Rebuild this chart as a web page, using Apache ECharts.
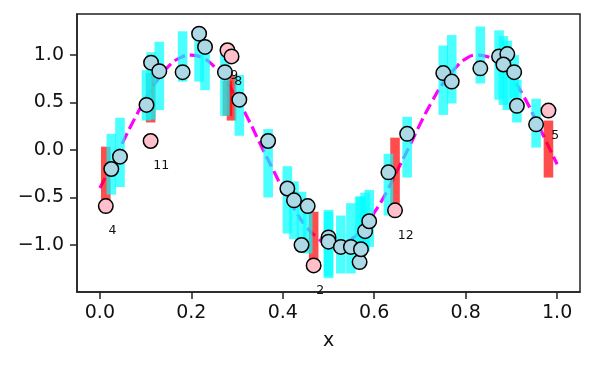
<!DOCTYPE html>
<html><head><meta charset="utf-8">
<script src="https://cdn.jsdelivr.net/npm/echarts@6/dist/echarts.min.js"></script>
<style>html,body{margin:0;padding:0;background:#fff}#c{width:593px;height:366px}</style>
</head><body><div id="c"></div>
<script>
// Dashed reference curve
const curveX = [0,0.025,0.05,0.075,0.1,0.125,0.15,0.175,0.2,0.225,0.25,0.275,0.3,0.325,0.35,0.375,0.4,0.425,0.45,0.475,0.5,0.525,0.55,0.575,0.6,0.625,0.65,0.675,0.7,0.725,0.75,0.775,0.8,0.825,0.85,0.875,0.9,0.925,0.95,0.975,1.0];
const curveY = [-0.40,-0.17,0.08,0.32,0.54,0.73,0.88,0.97,1.0,0.97,0.88,0.73,0.54,0.32,0.07,-0.17,-0.41,-0.62,-0.80,-0.92,-0.99,-0.99,-0.94,-0.83,-0.66,-0.46,-0.22,0.02,0.27,0.50,0.70,0.85,0.96,1.0,0.98,0.90,0.77,0.58,0.35,0.10,-0.15];

// Inlier points and their intervals
const ptX  = [0.025,0.044,0.102,0.112,0.130,0.181,0.217,0.230,0.2735,0.305,0.368,0.410,0.4245,0.4545,0.441,0.500,0.500,0.527,0.549,0.568,0.571,0.580,0.589,0.631,0.672,0.751,0.7695,0.832,0.873,0.891,0.8825,0.906,0.912,0.954];
const ptY  = [-0.20,-0.07,0.475,0.92,0.83,0.82,1.225,1.085,0.82,0.53,0.095,-0.405,-0.53,-0.59,-1.0,-0.92,-0.965,-1.02,-1.02,-1.18,-1.045,-0.855,-0.75,-0.235,0.17,0.81,0.72,0.86,0.985,1.01,0.90,0.82,0.465,0.27];
const ptLo = [-0.47,-0.39,0.31,0.32,0.42,0.72,0.72,0.63,0.36,0.15,-0.50,-0.88,-0.94,-1.09,-1.02,-1.35,-1.33,-1.30,-1.30,-1.22,-1.21,-1.07,-1.02,-0.69,-0.29,0.37,0.49,0.70,0.53,0.42,0.475,0.55,0.29,0.025];
const ptHi = [0.17,0.34,0.84,1.03,1.14,1.25,1.25,1.14,1.09,0.79,0.22,-0.17,-0.33,-0.55,-0.44,-0.63,-0.65,-0.69,-0.56,-0.49,-0.49,-0.45,-0.42,-0.04,0.35,1.10,1.21,1.30,1.26,1.15,1.20,1.0,0.74,0.54];

// Outlier points, their intervals and labels
const outX  = [0.013,0.111,0.279,0.288,0.4675,0.6455,0.981];
const outY  = [-0.59,0.095,1.05,0.985,-1.215,-0.635,0.415];
const outLo = [-0.53,0.29,0.36,0.31,-1.20,-0.59,-0.29];
const outHi = [0.035,0.81,0.73,0.79,-0.65,0.13,0.31];
const outLabel = ['4','11','9','8','2','12','5'];

const xTicks = [0,0.2,0.4,0.6,0.8,1.0];
const yTicks = [-1.0,-0.5,0.0,0.5,1.0];

const BAR_W = 0.021;
const FONT = 'DejaVu Sans';
const fmt = v => v.toFixed(1).replace('-', '\u2212');

function barSeries(xs, lo, hi, color, z){
  return {
    type:'custom', z:z,
    data: xs.map((x,i)=>[x, lo[i], hi[i]]),
    renderItem: function(params, api){
      const x = api.value(0), l = api.value(1), h = api.value(2);
      const p1 = api.coord([x - BAR_W/2, h]);
      const p2 = api.coord([x + BAR_W/2, l]);
      return {type:'rect', shape:{x:p1[0], y:p1[1], width:p2[0]-p1[0], height:p2[1]-p1[1]}, style:{fill:color}};
    },
    silent:true, animation:false
  };
}

const chart = echarts.init(document.getElementById('c'), null, {renderer:'canvas'});
chart.setOption({
  animation:false,
  grid:{left:77, right:13, top:14, bottom:74, show:true, borderColor:'#222', borderWidth:1.5, backgroundColor:'transparent'},
  xAxis:{
    type:'value', min:-0.05, max:1.05,
    name:'x', nameLocation:'middle', nameGap:40,
    nameTextStyle:{fontFamily:FONT, fontSize:19, color:'#111'},
    splitLine:{show:false},
    axisLine:{show:true, onZero:false, lineStyle:{color:'#222', width:1.5}},
    axisTick:{show:true, length:7, lineStyle:{color:'#222', width:1.5}, customValues:xTicks},
    axisLabel:{fontFamily:FONT, fontSize:19, color:'#111', margin:12, customValues:xTicks, formatter:fmt}
  },
  yAxis:{
    type:'value', min:-1.495, max:1.432,
    splitLine:{show:false},
    axisLine:{show:true, onZero:false, lineStyle:{color:'#222', width:1.5}},
    axisTick:{show:true, length:7, lineStyle:{color:'#222', width:1.5}, customValues:yTicks},
    axisLabel:{fontFamily:FONT, fontSize:19, color:'#111', margin:13, customValues:yTicks, formatter:fmt}
  },
  series:[
    {type:'line', z:1, data: curveX.map((x,i)=>[x, curveY[i]]), showSymbol:false, smooth:true,
     lineStyle:{color:'#ff00ff', width:3.2, type:[11.5,5]}, silent:true},
    barSeries(outX, outLo, outHi, 'rgba(255,0,0,0.7)', 2),
    barSeries(ptX, ptLo, ptHi, 'rgba(0,255,255,0.7)', 3),
    {type:'scatter', z:4, data: ptX.map((x,i)=>[x, ptY[i]]), symbol:'circle', symbolSize:14.5,
     itemStyle:{color:'#add8e6', borderColor:'#000', borderWidth:1.5, opacity:1}, silent:true},
    {type:'scatter', z:4, data: outX.map((x,i)=>({value:[x, outY[i]], label:{formatter:outLabel[i]}})), symbol:'circle', symbolSize:14.5,
     itemStyle:{color:'#ffc0cb', borderColor:'#000', borderWidth:1.5, opacity:1}, silent:true,
     label:{show:true, position:[10.7,33.2], align:'left', verticalAlign:'middle', fontFamily:FONT, fontSize:12.5, color:'#111'}}
  ]
});
</script>
</body></html>
